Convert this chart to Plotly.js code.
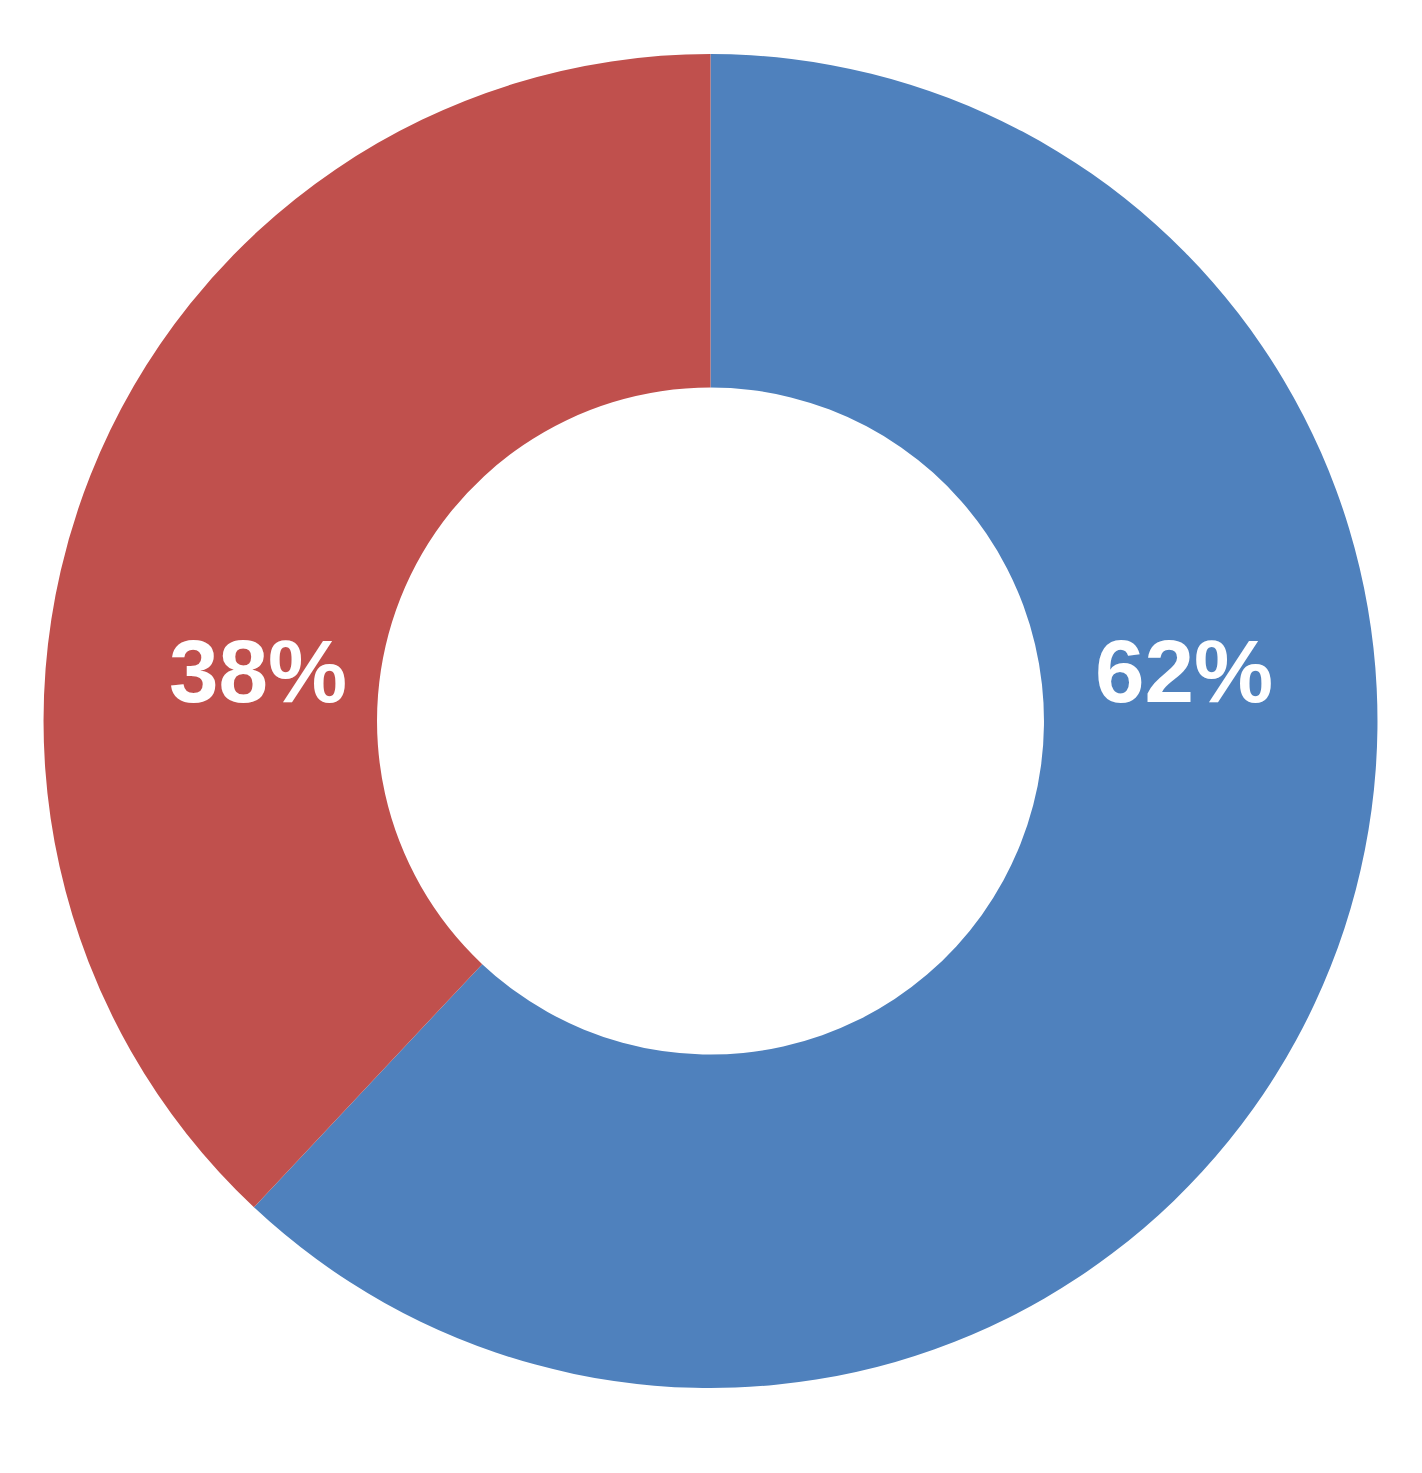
<!DOCTYPE html>
<html>
<head>
<meta charset="utf-8">
<script src="https://cdn.plot.ly/plotly-3.0.1.min.js"></script>
<style>html,body{margin:0;padding:0;background:#fff;}#chart{width:1422px;height:1473px;}</style>
</head>
<body>
<div id="chart"></div>
<script>
const categories = ["Series A", "Series B"];
const values = [62, 38];
const colors = ["#4F81BD", "#C0504D"];
const labelPos = [[0.8323, 0.5445], [0.1811, 0.5445]];

const total = values.reduce((a, b) => a + b, 0);
const annotations = values.map((v, i) => ({
  text: Math.round(v / total * 100) + "%",
  x: labelPos[i][0], y: labelPos[i][1], xref: "paper", yref: "paper",
  xanchor: "center", yanchor: "middle", showarrow: false,
  font: {family: "Liberation Sans, Arial, sans-serif", size: 89, color: "#ffffff", weight: "bold"}
}));

const data = [{
  type: "pie",
  labels: categories,
  values: values,
  hole: 0.5,
  sort: false,
  direction: "clockwise",
  rotation: 0,
  textinfo: "none",
  hoverinfo: "label+percent",
  marker: {colors: colors, line: {width: 0}},
  domain: {x: [0.0306, 0.9687], y: [0.0577, 0.9633]}
}];

const layout = {
  width: 1422, height: 1473,
  margin: {l: 0, r: 0, t: 0, b: 0},
  paper_bgcolor: "#ffffff",
  showlegend: false,
  annotations: annotations
};

Plotly.newPlot("chart", data, layout, {displayModeBar: false, staticPlot: true});
</script>
</body>
</html>
